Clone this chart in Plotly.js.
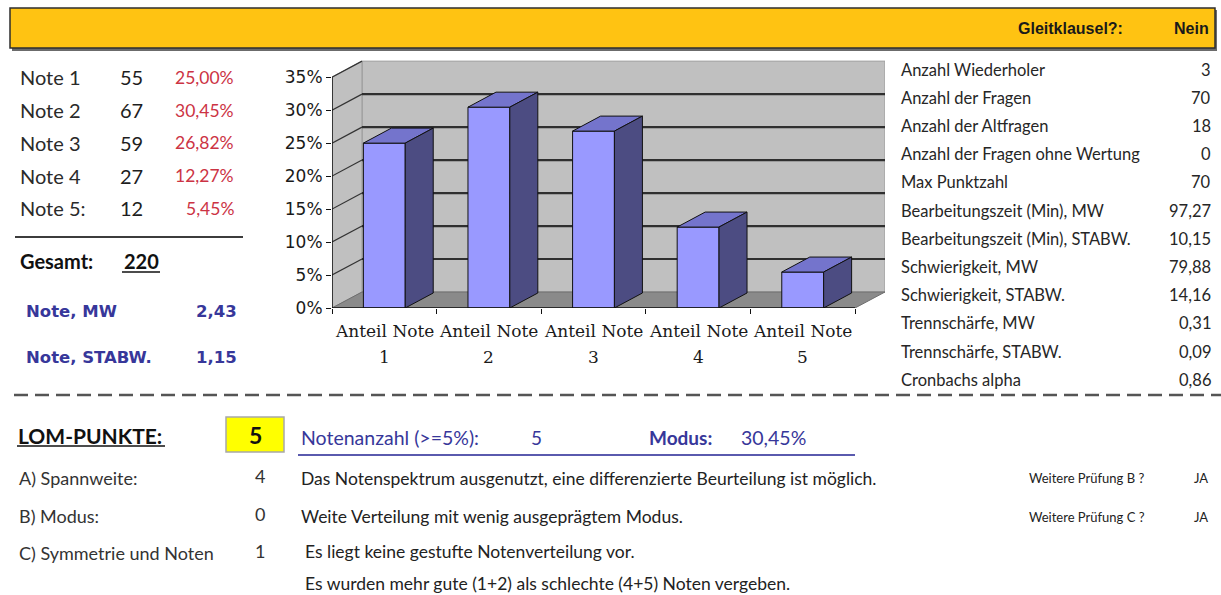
<!DOCTYPE html>
<html>
<head>
<meta charset="utf-8">
<script src="https://cdn.plot.ly/plotly-3.0.1.min.js"></script>
<style>
  html, body { margin: 0; padding: 0; background: #ffffff; }
  #sheet { width: 1221px; height: 595px; }
</style>
</head>
<body>
<div id="sheet"></div>
<script>
// ---- grade distribution ----
const gradeLabels = ['Note 1', 'Note 2', 'Note 3', 'Note 4', 'Note 5:'];
const gradeCounts = [55, 67, 59, 27, 12];
const gradeShares = [25.00, 30.45, 26.82, 12.27, 5.45];   // percent of all grades
const gradeMean = '2,43';
const gradeStd = '1,15';

// ---- chart axes ----
const chartCategories = ['1', '2', '3', '4', '5'];
const categoryPrefix = 'Anteil Note';
const yTicks = [0, 5, 10, 15, 20, 25, 30, 35];

// ---- exam statistics ----
const statLabels = [
  'Anzahl Wiederholer', 'Anzahl der Fragen', 'Anzahl der Altfragen',
  'Anzahl der Fragen ohne Wertung', 'Max Punktzahl',
  'Bearbeitungszeit (Min), MW', 'Bearbeitungszeit (Min), STABW.',
  'Schwierigkeit, MW', 'Schwierigkeit, STABW.', 'Trennschärfe, MW',
  'Trennschärfe, STABW.', 'Cronbachs alpha'
];
const statValues = ['3', '70', '18', '0', '70', '97,27', '10,15', '79,88', '14,16', '0,31', '0,09', '0,86'];

// ---- LOM evaluation ----
const lomTotal = 5;
const gradeCountAbove5 = 5;
const criteriaLabels = ['A) Spannweite:', 'B) Modus:', 'C) Symmetrie und Noten'];
const criteriaPoints = [4, 0, 1];
const criteriaTexts = [
  'Das Notenspektrum ausgenutzt, eine differenzierte Beurteilung ist möglich.',
  'Weite Verteilung mit wenig ausgeprägtem Modus.',
  'Es liegt keine gestufte Notenverteilung vor.',
  'Es wurden mehr gute (1+2) als schlechte (4+5) Noten vergeben.'
];
const followUpLabels = ['Weitere Prüfung B ?', 'Weitere Prüfung C ?'];
const followUpValues = ['JA', 'JA'];
const slidingClause = 'Nein';

// ---- page geometry helpers (page pixels -> paper fractions) ----
const W = 1221, H = 595;
const px = x => x / W;
const py = y => 1 - y / H;

const SANS = 'Lato, "Open Sans", sans-serif';
const VERD = '"DejaVu Sans", Verdana, sans-serif';
const SERIF = '"DejaVu Serif", serif';
const NARROW = '"Liberation Sans Narrow", "Liberation Sans", Arial, sans-serif';
const BLUE = '#37379a';

const fmt = v => v.toFixed(2).replace('.', ',');

const annotations = [];
function label(text, x, y, size, opts = {}) {
  annotations.push({
    text: text, xref: 'paper', yref: 'paper', x: px(x), y: py(y),
    xanchor: opts.anchor || 'left', yanchor: 'middle', showarrow: false,
    font: { family: opts.family || SANS, size: size, color: opts.color || '#222222' }
  });
}

const shapes = [];
function pageRect(x0, y0, x1, y1, fill, line, lw) {
  shapes.push({ type: 'rect', xref: 'paper', yref: 'paper', x0: px(x0), x1: px(x1), y0: py(y1), y1: py(y0),
    fillcolor: fill, line: { color: line, width: lw }, layer: 'below' });
}
function pageLine(x0, y, x1, color, lw, dash) {
  shapes.push({ type: 'line', xref: 'paper', yref: 'paper', x0: px(x0), x1: px(x1), y0: py(y), y1: py(y),
    line: { color: color, width: lw, dash: dash || 'solid' }, layer: 'above' });
}

// ---- header band ----
pageRect(12, 10, 1217, 51, '#6b6b6b', '#6b6b6b', 0);
pageRect(10, 8, 1215, 48, '#FFC312', '#2e2e2e', 1.5);
label('<b>Gleitklausel?:</b>', 1125, 28, 16, { anchor: 'right', family: NARROW, color: '#1a1a1a' });
label('<b>' + slidingClause + '</b>', 1211, 28, 16, { anchor: 'right', family: NARROW, color: '#1a1a1a' });

// ---- grade table ----
gradeLabels.forEach((g, i) => {
  const y = 77.5 + i * 32.7;
  label(g, 18, y, 20, { color: '#2a2a2a' });
  label(String(gradeCounts[i]), 145, y, 20, { anchor: 'right', color: '#1e1e1e' });
  label(fmt(gradeShares[i]) + '%', 236, y, 17.5, { anchor: 'right', color: '#cc3344' });
});
pageLine(15, 237, 243, '#3c3c3c', 2);
const totalCount = gradeCounts.reduce((a, b) => a + b, 0);
label('<b>Gesamt:</b>', 18, 261, 20, { color: '#111111' });
label('<b>' + totalCount + '</b>', 122, 261, 20, { color: '#111111' });
pageLine(122, 272, 160, '#111111', 1.5);
label('<b>Note, MW</b>', 24, 311, 16.5, { family: VERD, color: BLUE });
label('<b>' + gradeMean + '</b>', 239, 311, 16.5, { anchor: 'right', family: VERD, color: BLUE });
label('<b>Note, STABW.</b>', 24, 357, 16.5, { family: VERD, color: BLUE });
label('<b>' + gradeStd + '</b>', 239, 357, 16.5, { anchor: 'right', family: VERD, color: BLUE });

// ---- statistics table ----
statLabels.forEach((s, i) => {
  const y = 69.5 + i * 28.2;
  label(s, 899, y, 16.5, { color: '#262626' });
  label(statValues[i], 1213, y, 16.5, { anchor: 'right', color: '#262626' });
});

// ---- separator ----
pageLine(14, 395, 1221, '#555555', 2.5, '14px,7px');

// ---- LOM section ----
label('<b>LOM-PUNKTE:</b>', 16, 435, 21, { color: '#111111' });
pageLine(17, 446, 165, '#111111', 1.5);
pageRect(226, 417, 284, 452, '#FFFF00', '#a8a8a8', 1.5);
label('<b>' + lomTotal + '</b>', 255, 435, 23, { anchor: 'center', color: '#111111' });
label('Notenanzahl (>=5%):', 299, 437, 19.5, { color: BLUE });
label(String(gradeCountAbove5), 529, 437, 19, { color: BLUE });
label('<b>Modus:</b>', 647, 437, 19, { color: BLUE });
label(fmt(Math.max(...gradeShares)) + '%', 739, 437, 19.5, { color: BLUE });
pageLine(298, 455, 855, '#5a5aae', 2);

const criteriaY = [478, 516, 553];
criteriaLabels.forEach((c, i) => {
  label(c, 17, criteriaY[i], 18, { color: '#333333' });
  label(String(criteriaPoints[i]), 253, criteriaY[i] - 2, 18, { color: '#333333' });
});
label(criteriaTexts[0], 299, 478, 17.5, { color: '#222222' });
label(criteriaTexts[1], 299, 516, 17.5, { color: '#222222' });
label(criteriaTexts[2], 303, 551, 17.5, { color: '#222222' });
label(criteriaTexts[3], 303, 583, 17.5, { color: '#222222' });
followUpLabels.forEach((f, i) => {
  const y = [478, 517][i];
  label(f, 1027, y, 13, { color: '#222222' });
  label(followUpValues[i], 1192, y, 13, { color: '#222222' });
});

// ---- 3D column chart ----
// pixel geometry of the plot: category width 104.6 px, 6.596 px per percent
const catPx = 104.6, pctPx = 248 / 37.6;
const wallDx = 30 / catPx, wallDy = 16 / pctPx;     // depth of walls / floor
const barDx = 28 / catPx, barDy = 15 / pctPx;       // depth of columns
const barWidth = 0.4;
const xMin = 0.5, xMax = chartCategories.length + 0.5;
const yMax = yTicks[yTicks.length - 1];

// back wall, side wall, floor
const poly = pts => 'M' + pts.map(p => p[0] + ',' + p[1]).join(' L') + ' Z';
shapes.push({ type: 'path', xref: 'x', yref: 'y', layer: 'below',
  path: poly([[xMin + wallDx, wallDy], [xMax + wallDx, wallDy], [xMax + wallDx, yMax + wallDy], [xMin + wallDx, yMax + wallDy]]),
  fillcolor: '#c0c0c0', line: { color: '#9a9a9a', width: 1 } });
shapes.push({ type: 'path', xref: 'x', yref: 'y', layer: 'below',
  path: poly([[xMin, 0], [xMin + wallDx, wallDy], [xMin + wallDx, yMax + wallDy], [xMin, yMax]]),
  fillcolor: '#c0c0c0', line: { color: '#9a9a9a', width: 1 } });
shapes.push({ type: 'path', xref: 'x', yref: 'y', layer: 'below',
  path: poly([[xMin, 0], [xMax, 0], [xMax + wallDx, wallDy], [xMin + wallDx, wallDy]]),
  fillcolor: '#8a8a8a', line: { color: '#6e6e6e', width: 1 } });
// gridlines on the walls
yTicks.forEach(v => {
  if (v === 0) return;
  shapes.push({ type: 'line', xref: 'x', yref: 'y', layer: 'below',
    x0: xMin, y0: v, x1: xMin + wallDx, y1: v + wallDy, line: { color: '#333333', width: 1.2 } });
  if (v < yMax) {
    shapes.push({ type: 'line', xref: 'x', yref: 'y', layer: 'below',
      x0: xMin + wallDx, y0: v + wallDy, x1: xMax + wallDx, y1: v + wallDy, line: { color: '#2f2f2f', width: 2.2 } });
  }
});
// front axis lines
shapes.push({ type: 'line', xref: 'x', yref: 'y', layer: 'above', x0: xMin, y0: 0, x1: xMin, y1: yMax, line: { color: '#111111', width: 1.5 } });
shapes.push({ type: 'line', xref: 'x', yref: 'y', layer: 'above', x0: xMin, y0: 0, x1: xMax, y1: 0, line: { color: '#111111', width: 1.5 } });

const xs = chartCategories.map((c, i) => i + 1);

// category labels, two lines each, placed on the category positions
chartCategories.forEach((c, i) => {
  annotations.push({ text: categoryPrefix, xref: 'x', yref: 'paper', x: xs[i], y: py(331),
    xanchor: 'center', yanchor: 'middle', showarrow: false,
    font: { family: SERIF, size: 17, color: '#1a1a1a' } });
  annotations.push({ text: c, xref: 'x', yref: 'paper', x: xs[i], y: py(357),
    xanchor: 'center', yanchor: 'middle', showarrow: false,
    font: { family: SERIF, size: 17, color: '#1a1a1a' } });
});

const traces = [{
  type: 'bar', x: xs, y: gradeShares, width: barWidth,
  marker: { color: '#9999ff', line: { color: '#111111', width: 1 } },
  hoverinfo: 'skip', showlegend: false
}];
gradeShares.forEach((v, i) => {
  const xl = xs[i] - barWidth / 2, xr = xs[i] + barWidth / 2;
  // top face
  traces.push({ type: 'scatter', mode: 'lines', fill: 'toself', fillcolor: '#7474cc',
    x: [xl, xr, xr + barDx, xl + barDx, xl], y: [v, v, v + barDy, v + barDy, v],
    line: { color: '#111111', width: 1 }, hoverinfo: 'skip', showlegend: false });
  // side face
  traces.push({ type: 'scatter', mode: 'lines', fill: 'toself', fillcolor: '#4c4c82',
    x: [xr, xr + barDx, xr + barDx, xr, xr], y: [v, v + barDy, barDy, 0, v],
    line: { color: '#111111', width: 1 }, hoverinfo: 'skip', showlegend: false });
});

const xRange = [xMin, xMax + wallDx];
const layout = {
  width: W, height: H,
  margin: { l: 0, r: 0, t: 0, b: 0 },
  paper_bgcolor: '#ffffff', plot_bgcolor: 'rgba(0,0,0,0)',
  showlegend: false,
  xaxis: {
    domain: [px(332), px(332 + (xRange[1] - xRange[0]) * catPx)],
    range: xRange, tickmode: 'array', tickvals: xs.map(x => x - 0.5).concat([xMax]),
    ticks: 'outside', ticklen: 5, tickcolor: '#111111', showticklabels: false,
    showgrid: false, zeroline: false, showline: false, fixedrange: true
  },
  yaxis: {
    domain: [py(308), py(60)], range: [0, 37.6], tickmode: 'array', tickvals: yTicks,
    ticktext: yTicks.map(v => v + '%'), ticks: 'outside', ticklen: 5, tickcolor: '#111111',
    tickfont: { family: VERD, size: 17, color: '#1a1a1a' },
    showgrid: false, zeroline: false, showline: false, fixedrange: true
  },
  shapes: shapes,
  annotations: annotations
};

Plotly.newPlot('sheet', traces, layout, { displayModeBar: false, staticPlot: true });
</script>
</body>
</html>
